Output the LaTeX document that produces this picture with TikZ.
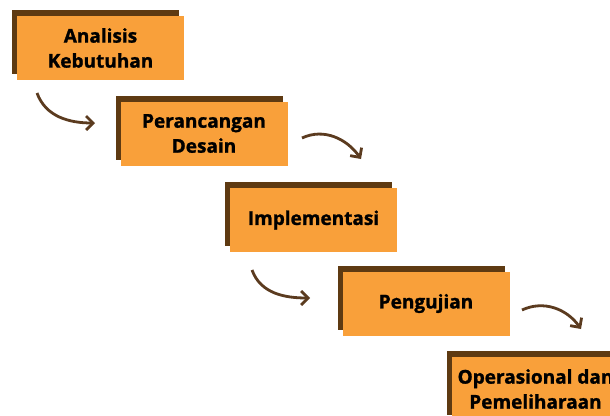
\documentclass[tikz,border=0pt]{standalone}
\usepackage{fontspec}
\setmainfont{Open Sans}[BoldFeatures={FakeBold=1.3}]
\usetikzlibrary{arrows.meta}
\usetikzlibrary{shadows}
\definecolor{stepfill}{HTML}{F9A03A}
\definecolor{stepshade}{HTML}{5E3A12}
\definecolor{curvebrown}{HTML}{5B3B1F}

\begin{document}
\begin{tikzpicture}[x=1pt,y=-1pt,
		phase/.style = {rectangle, fill=stepfill, minimum width=167pt, minimum height=64pt, align=center, font=\fontsize{19}{25}\selectfont\bfseries, general shadow={fill=stepshade, shadow xshift=-5pt, shadow yshift=6pt}},
		flow/.style = {line width=2.8pt, curvebrown, -{Straight Barb[length=7pt,width=14pt]}}]
					\path[use as bounding box, clip] (0,0) rectangle (610,415);
					\begin{scope}[every node/.style={phase}]
						\node (A) at (100.5,48) {Analisis\\Kebutuhan};
						\node (P) at (204,133.5) {Perancangan\\Desain};
						\node (I) at (313.5,220) {Implementasi};
						\node (U) at (426,303.5) {Pengujian};
						\node (O) at (535.5,389) {Operasional dan\\Pemeliharaan};
					\end{scope}
					\coordinate (a1) at (37,93);   \coordinate (b1) at (95,123);
					\coordinate (a2) at (302,138); \coordinate (b2) at (361,159);
					\coordinate (a3) at (252,270); \coordinate (b3) at (310,298);
					\coordinate (a4) at (522,310); \coordinate (b4) at (581,329);
					\draw [flow] (a1) to [out=-70,in=180] (b1);
					\draw [flow] (a2) to [out=25,in=125] (b2);
					\draw [flow] (a3) to [out=-70,in=180] (b3);
					\draw [flow] (a4) to [out=25,in=125] (b4);
				\end{tikzpicture}
\end{document}
